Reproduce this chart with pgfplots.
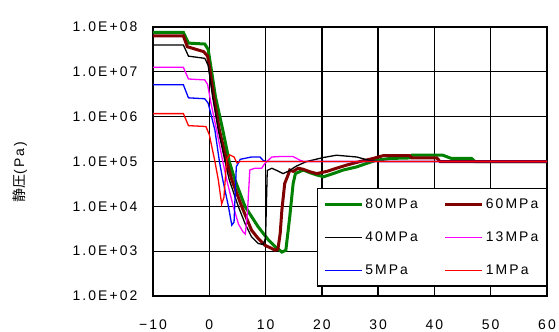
\documentclass[border=0pt]{standalone}
\usepackage{fontspec}
\setmainfont{Liberation Sans}[LetterSpace=15]
\newfontfamily\cjk{Noto Sans CJK JP}
\usepackage{pgfplots}
\pgfplotsset{compat=1.18}
\definecolor{cgreen}{RGB}{0,128,0}
\definecolor{cdred}{RGB}{128,0,0}
\definecolor{cmag}{RGB}{255,0,255}
\definecolor{cblue}{RGB}{0,0,255}
\definecolor{cred}{RGB}{255,0,0}
\begin{document}
\begin{tikzpicture}
\begin{axis}[
  scale only axis, width=394bp, height=269bp,
  xmin=-10, xmax=60, ymin=100, ymax=1e8, ymode=log, log basis y=10,
  xtick={-10,0,10,20,30,40,50,60},
  xticklabels={−10,0,10,20,30,40,50,60},
  ytick={100,1000,10000,100000,1000000,10000000,100000000},
  yticklabels={1.0E+02,1.0E+03,1.0E+04,1.0E+05,1.0E+06,1.0E+07,1.0E+08},
  grid=major, major grid style={black, line width=1.3bp},
  axis line style={black, line width=1.3bp},
  major tick length=0pt, minor tick length=0pt,
  tick label style={font=\fontsize{14}{16}\selectfont},
  yticklabel style={xshift=-12bp},
  xticklabel style={yshift=-20bp},
  ylabel={{\cjk 静圧}(Pa)},
  ylabel style={at={(axis description cs:-0.338,0.46)}, anchor=center, font=\fontsize{14}{16}\selectfont},
  no markers,
  legend columns=2,
  legend cell align=left,
  legend style={at={(rel axis cs:1,0.035)}, anchor=south east, draw=black, line width=1.2bp, fill=white,
    inner xsep=6bp, inner ysep=8bp, row sep=18bp, font=\fontsize{14}{16}\selectfont,
    /tikz/every even column/.append style={column sep=24bp}},
  legend image code/.code={\draw[#1,line cap=butt] (0bp,0bp) -- (37bp,0bp);},
]
% 80MPa
\addplot[cgreen, line width=3bp] coordinates {
(-10,7.59e7) (-4.6,7.59e7) (-3.7,4.37e7) (-0.8,4.17e7) (-0.2,3.16e7) (0.3,1.26e7)
(1.1,2.75e6) (2.4,5.01e5) (3.55,1e5) (4.56,3.89e4) (6.34,1e4) (8.7,3.47e3)
(10.5,1.78e3) (11.7,1.26e3) (12.9,955) (13.6,1.05e3) (14.3,5.89e3) (14.9,3.24e4)
(15.3,5.37e4) (16.7,6.46e4) (17.9,5.62e4) (19.1,5.01e4) (20.3,4.57e4) (22.0,5.37e4)
(23.8,6.46e4) (26.2,7.59e4) (28.0,9.12e4) (29.7,1.07e5) (32.1,1.17e5) (35.6,1.2e5)
(36.0,1.38e5) (41.5,1.38e5) (43.0,1.17e5) (46.6,1.17e5) (47.2,1e5) (60,1e5)};
\addlegendentry{80MPa}
% 60MPa
\addplot[cdred, line width=3bp] coordinates {
(-10,6.31e7) (-4.6,6.31e7) (-3.9,3.63e7) (-1.0,2.82e7) (-0.3,2.24e7) (0.1,1.12e7)
(0.8,2.75e6) (1.8,5.01e5) (3.1,1e5) (4.0,3.89e4) (5.75,1e4) (7.5,2.95e3)
(8.7,1.91e3) (9.9,1.35e3) (11.1,1.15e3) (11.7,1.05e3) (12.2,1.12e3) (12.6,2.51e3)
(12.9,8.32e3) (13.4,3.24e4) (14.0,5.01e4) (14.3,6.46e4) (14.9,6.03e4) (15.8,7.08e4)
(16.6,6.76e4) (17.9,5.89e4) (19.1,5.37e4) (20.9,6.03e4) (22.6,7.08e4) (24.4,8.32e4)
(26.8,1e5) (29.1,1.17e5) (30.9,1.35e5) (35.6,1.35e5) (36.0,1.2e5) (40.4,1.2e5)
(41.0,1e5) (60,1e5)};
\addlegendentry{60MPa}
% 40MPa
\addplot[black, line width=1.3bp] coordinates {
(-10,3.98e7) (-4.6,3.98e7) (-3.7,2.24e7) (-0.8,2.0e7) (-0.2,1.41e7) (0.6,2.75e6)
(1.6,5.01e5) (2.8,1e5) (3.55,3.89e4) (5.15,1e4) (6.34,4.17e3) (7.5,2.09e3)
(8.7,1.48e3) (9.6,1.41e3) (10.0,2.0e3) (10.3,6.31e4) (11.1,7.08e4) (12.0,6.31e4)
(13.1,5.37e4) (14.0,6.03e4) (15.5,7.94e4) (17.3,1e5) (20.3,1.23e5) (22.6,1.38e5)
(26.2,1.26e5) (28.5,1.05e5) (30,1e5) (60,1e5)};
\addlegendentry{40MPa}
% 13MPa
\addplot[cmag, line width=1.3bp] coordinates {
(-10,1.26e7) (-4.6,1.26e7) (-3.7,6.92e6) (-0.8,6.61e6) (-0.3,5.25e6) (0.3,2.0e6)
(1.3,5.01e5) (2.4,1e5) (3.1,3.89e4) (4.26,1e4) (5.2,3.98e3) (6.0,2.69e3)
(6.4,2.4e3) (6.8,7.94e3) (7.2,6.46e4) (8.1,7.08e4) (9.3,7.08e4) (9.9,9.12e4)
(11.1,1.26e5) (12.6,1.29e5) (14.9,1.29e5) (16.1,1.07e5) (16.7,1e5) (60,1e5)};
\addlegendentry{13MPa}
% 5MPa
\addplot[cblue, line width=1.3bp] coordinates {
(-10,5.13e6) (-4.6,5.13e6) (-3.7,2.63e6) (-0.8,2.51e6) (-0.2,2.0e6) (0.4,1e6)
(1.0,5.01e5) (1.8,1e5) (2.4,3.89e4) (3.4,1e4) (4.0,3.8e3) (4.4,4.47e3)
(4.8,7.59e4) (5.5,1.12e5) (7.5,1.26e5) (9.0,1.26e5) (9.6,1.05e5) (10.2,1e5) (60,1e5)};
\addlegendentry{5MPa}
% 1MPa
\addplot[cred, line width=1.3bp] coordinates {
(-10,1.17e6) (-4.6,1.17e6) (-3.7,6.31e5) (-0.6,6.03e5) (0.0,3.98e5) (0.5,2.0e5)
(1.0,1e5) (1.6,3.89e4) (2.2,1.12e4) (2.6,1.58e4) (3.1,1.12e5) (3.6,1.41e5)
(4.4,1.26e5) (4.9,9.33e4) (5.5,1e5) (60,1e5)};
\addlegendentry{1MPa}
\end{axis}
\pgfresetboundingbox
\path[use as bounding box] ([shift={(-153bp,-35bp)}]current axis.south west) rectangle ([shift={(12bp,27bp)}]current axis.north east);
\end{tikzpicture}
\end{document}
